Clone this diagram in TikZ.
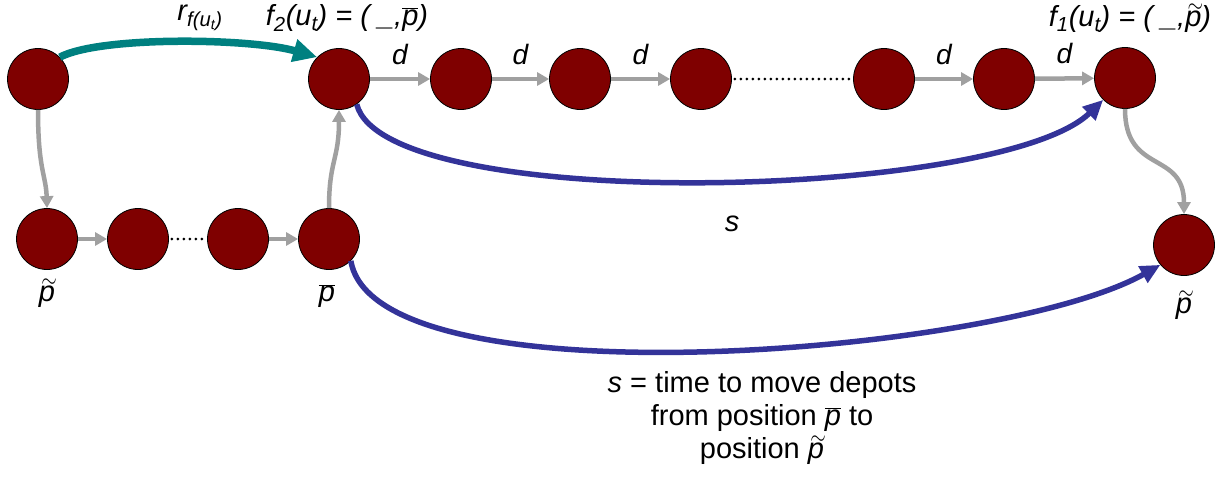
\documentclass[tikz,border=0pt]{standalone}
\usepackage{fontspec}
\usepackage{graphicx}
\setmainfont{Liberation Sans}
\usetikzlibrary{arrows.meta}
\definecolor{nodered}{HTML}{7F0000}
\definecolor{tealc}{HTML}{008080}
\definecolor{bluec}{HTML}{333399}
\definecolor{grayc}{HTML}{A0A0A0}
\newcommand{\pbar}{$\overline{\mbox{\textit{p}}}$}
\newcommand{\ptil}{\ooalign{\textit{p}\cr\hidewidth\kern0.14em\raisebox{0.5em}{\scalebox{0.8}[0.95]{$\sim$}}\hidewidth\cr}}
\begin{document}
\begin{tikzpicture}[x=1pt,y=-1pt,
  dot/.style={circle,draw=black,line width=0.8pt,fill=nodered,minimum size=61pt,inner sep=0pt},
  garrow/.style={draw=grayc,line width=4.5pt,-{Triangle[length=12pt,width=13pt]}},
  dotline/.style={draw=black,line width=3pt,line cap=round,dash pattern=on 0pt off 6pt},
  tarrow/.style={draw=tealc,line width=7.5pt,-{Triangle[length=24pt,width=22pt]}},
  barrow/.style={draw=bluec,line width=5.5pt,-{Triangle[length=20pt,width=18pt]}},
  lbl/.style={font=\fontsize{29}{32}\selectfont\itshape,inner sep=0pt},
  dl/.style={font=\fontsize{28}{32}\selectfont\itshape,inner sep=0pt}]
\useasboundingbox (0,0) rectangle (1225,479);
% top row
\node[dot] (A) at (38,79) {};
\node[dot] (F2) at (339,79) {};
\node[dot] (t1) at (461,79) {};
\node[dot] (t2) at (580,79) {};
\node[dot] (t3) at (701,79) {};
\node[dot] (t4) at (884,79) {};
\node[dot] (t5) at (1004,79) {};
\node[dot] (F1) at (1125,78) {};
\node[dot] (L) at (1184,245) {};
% bottom row
\node[dot] (b1) at (47,239) {};
\node[dot] (b2) at (138,239) {};
\node[dot] (b3) at (238,239) {};
\node[dot] (b4) at (329,239) {};
% gray arrows
\draw[garrow] (F2) -- (t1) node[dl,midway,above=12pt] (d1) {d};
\draw[garrow] (t1) -- (t2) node[dl,midway,above=12pt] (d2) {d};
\draw[garrow] (t2) -- (t3) node[dl,midway,above=12pt] (d3) {d};
\draw[dotline] ([xshift=3pt]t3.east) -- ([xshift=-3pt]t4.west);
\draw[garrow] (t4) -- (t5) node[dl,midway,above=12pt] (d4) {d};
\draw[garrow] (t5) -- (F1) node[dl,midway,above=12pt] (d5) {d};
\draw[garrow] (b1) -- (b2);
\draw[dotline] ([xshift=3pt]b2.east) -- ([xshift=-3pt]b3.west);
\draw[garrow] (b3) -- (b4);
\draw[garrow] (A.south) .. controls (38,170) and (46,175) .. (b1.north);
\draw[garrow] (b4.north) .. controls (329,160) and (339,160) .. (F2.south);
\draw[garrow] (F1.south) .. controls (1125,175) and (1184,150) .. (L.north);
% teal arrow
\draw[tarrow] (A.45) .. controls (100,36) and (250,38) .. (F2.135);
% blue arrows
\draw[barrow] (F2.-55) .. controls (385,215) and (1000,200) .. (F1.-135);
\draw[barrow] (b4.-45) .. controls (375,405) and (1000,355) .. (L.-140);
% labels
\node[lbl] (rl) at (200,18) {r\textsubscript{f(u\textsubscript{t})}};
\node[lbl] (f2l) at (347,18) {f\textsubscript{2}(u\textsubscript{t}) = ( \_,\pbar)};
\node[lbl] (f1l) at (1130,19) {f\textsubscript{1}(u\textsubscript{t}) = ( \_,\ptil)};
\node[lbl] (pl1) at (47,294) {\ptil};
\node[lbl] (pl2) at (327,296) {\pbar};
\node[lbl] (pl3) at (1184,306) {\ptil};
\node[lbl] (sl) at (732,224) {s};
\node[font=\fontsize{29}{33}\selectfont,align=center,inner sep=0pt] (desc) at (762,418)
  {\textit{s} = time to move depots\\from position \pbar{} to\\position \ptil};
\end{tikzpicture}
\end{document}
